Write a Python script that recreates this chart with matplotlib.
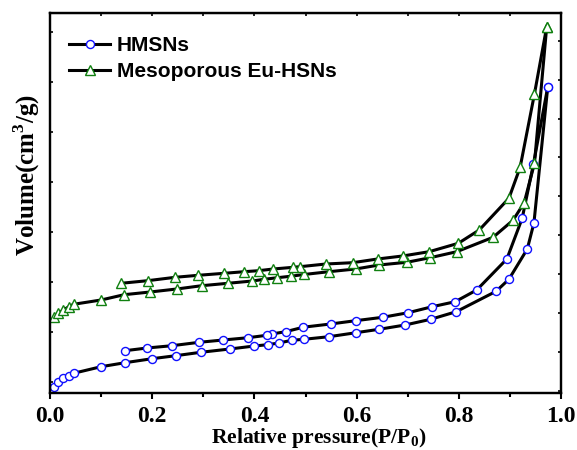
import matplotlib
matplotlib.use("Agg")
import matplotlib.pyplot as plt
from matplotlib.ticker import MultipleLocator

plt.rcParams['font.family'] = 'Liberation Serif'
plt.rcParams['mathtext.fontset'] = 'custom'
plt.rcParams['mathtext.rm'] = 'Liberation Serif'
plt.rcParams['mathtext.bf'] = 'Liberation Serif:bold'

# HMSNs - адсорбция (нижняя ветвь)
hm_ads_x = [0.008, 0.016, 0.026, 0.037, 0.046, 0.100, 0.147, 0.200, 0.246, 0.295,
            0.352, 0.400, 0.426, 0.448, 0.473, 0.497, 0.546, 0.599, 0.644, 0.695,
            0.745, 0.795, 0.873, 0.898, 0.934, 0.947, 0.974]
hm_ads_y = [-10.6, -0.6, 6.8, 12.0, 16.8, 30.0, 38.0, 46.0, 52.0, 58.8,
            65.4, 71.4, 74.0, 77.4, 82.8, 84.8, 90.0, 98.0, 104.8, 113.4,
            124.8, 140.0, 180.8, 204.8, 265.4, 317.4, 589.4]
# HMSNs - десорбция (верхняя ветвь)
hm_des_x = [0.974, 0.946, 0.924, 0.894, 0.835, 0.793, 0.748, 0.701, 0.651, 0.598,
            0.549, 0.496, 0.461, 0.434, 0.424, 0.388, 0.339, 0.292, 0.239, 0.190, 0.147]
hm_des_y = [589.4, 434.8, 326.8, 245.4, 183.4, 160.0, 150.0, 138.0, 128.8, 122.0,
            115.4, 109.0, 100.0, 95.4, 92.8, 88.0, 83.4, 78.8, 72.0, 67.4, 62.0]

# Mesoporous Eu-HSNs - адсорбция
eu_ads_x = [0.008, 0.016, 0.026, 0.037, 0.046, 0.100, 0.145, 0.196, 0.248, 0.297,
            0.348, 0.396, 0.419, 0.445, 0.472, 0.497, 0.546, 0.598, 0.644, 0.698,
            0.744, 0.796, 0.867, 0.906, 0.928, 0.948, 0.972]
eu_ads_y = [128.8, 136.8, 143.4, 150.0, 154.8, 163.4, 174.0, 179.4, 185.4, 192.0,
            196.8, 201.4, 204.8, 208.0, 211.0, 214.4, 220.0, 225.4, 233.4, 238.8,
            248.0, 260.0, 288.8, 322.8, 358.0, 436.8, 710.0]
# Mesoporous Eu-HSNs - десорбция
eu_des_x = [0.972, 0.948, 0.920, 0.898, 0.840, 0.799, 0.742, 0.690, 0.641, 0.592,
            0.540, 0.489, 0.476, 0.437, 0.408, 0.380, 0.341, 0.290, 0.245, 0.191, 0.139]
eu_des_y = [710.0, 575.4, 428.8, 366.8, 303.4, 276.8, 260.0, 251.4, 245.4, 238.0,
            235.4, 230.0, 228.8, 225.4, 222.0, 220.0, 216.8, 212.8, 208.8, 202.0, 196.8]

fig = plt.figure(figsize=(5.77, 4.5), dpi=100)
ax = fig.add_axes([0.0867, 0.1267, 0.8856, 0.8435])

line_kw = dict(color='black', linewidth=2.2, markeredgewidth=1.0, markerfacecolor='white')
ax.plot(hm_ads_x, hm_ads_y, marker='o', markersize=5.8, markeredgecolor='#1010ff',
        label='HMSNs', **line_kw)
ax.plot(hm_des_x, hm_des_y, marker='o', markersize=5.8, markeredgecolor='#1010ff', **line_kw)
ax.plot(eu_ads_x, eu_ads_y, marker='^', markersize=6.5, markeredgecolor='#108010',
        label='Mesoporous Eu-HSNs', **line_kw)
ax.plot(eu_des_x, eu_des_y, marker='^', markersize=6.5, markeredgecolor='#108010', **line_kw)

ax.set_xlim(0.0, 1.0)
ax.set_ylim(-22.6, 736.6)
ax.xaxis.set_minor_locator(MultipleLocator(0.1))
ax.yaxis.set_major_locator(MultipleLocator(100))
ax.set_yticklabels([])
ax.set_xticks([0.0, 0.2, 0.4, 0.6, 0.8, 1.0])
ax.set_xticklabels(['0.0', '0.2', '0.4', '0.6', '0.8', '1.0'],
                   fontsize=17, fontweight='bold')
ax.tick_params(axis='x', which='major', direction='out', length=4.5, width=1.5, pad=5)
ax.tick_params(axis='x', which='minor', direction='out', length=3, width=1.5)
ax.tick_params(axis='y', which='major', direction='in', length=2.5, width=1.2)

for s in ax.spines.values():
    s.set_linewidth(1.6)

# верхняя ось: засечки каждые 0.1 внутрь
top = ax.secondary_xaxis('top')
top.set_xticks([i / 10 for i in range(11)])
top.set_xticklabels([])
top.tick_params(direction='in', length=2.5, width=1.2)

# правая ось со своими засечками
ax2 = ax.twinx()
ax2.set_ylim(-0.05, 9.70)
ax2.set_yticks(range(10))
ax2.set_yticklabels([])
ax2.tick_params(axis='y', direction='in', length=2.5, width=1.2)
for s in ax2.spines.values():
    s.set_linewidth(1.6)

ax.set_xlabel('Relative pressure(P/P$_\\mathbf{0}$)', fontsize=15.5, fontweight='bold')
ax.xaxis.set_label_coords(0.525, -0.086)
ax.set_ylabel('Volume(cm$^\\mathbf{3}$/g)', fontsize=18, fontweight='bold')
ax.yaxis.set_label_coords(-0.015, 0.574)

ax.legend(loc='upper left', bbox_to_anchor=(0.0, 0.99), frameon=False,
          handlelength=2.0, handletextpad=0.3, labelspacing=0.35, borderaxespad=0.5,
          prop={'family': 'Liberation Sans', 'weight': 'bold', 'size': 15})

fig.savefig('out.png', dpi=100)
